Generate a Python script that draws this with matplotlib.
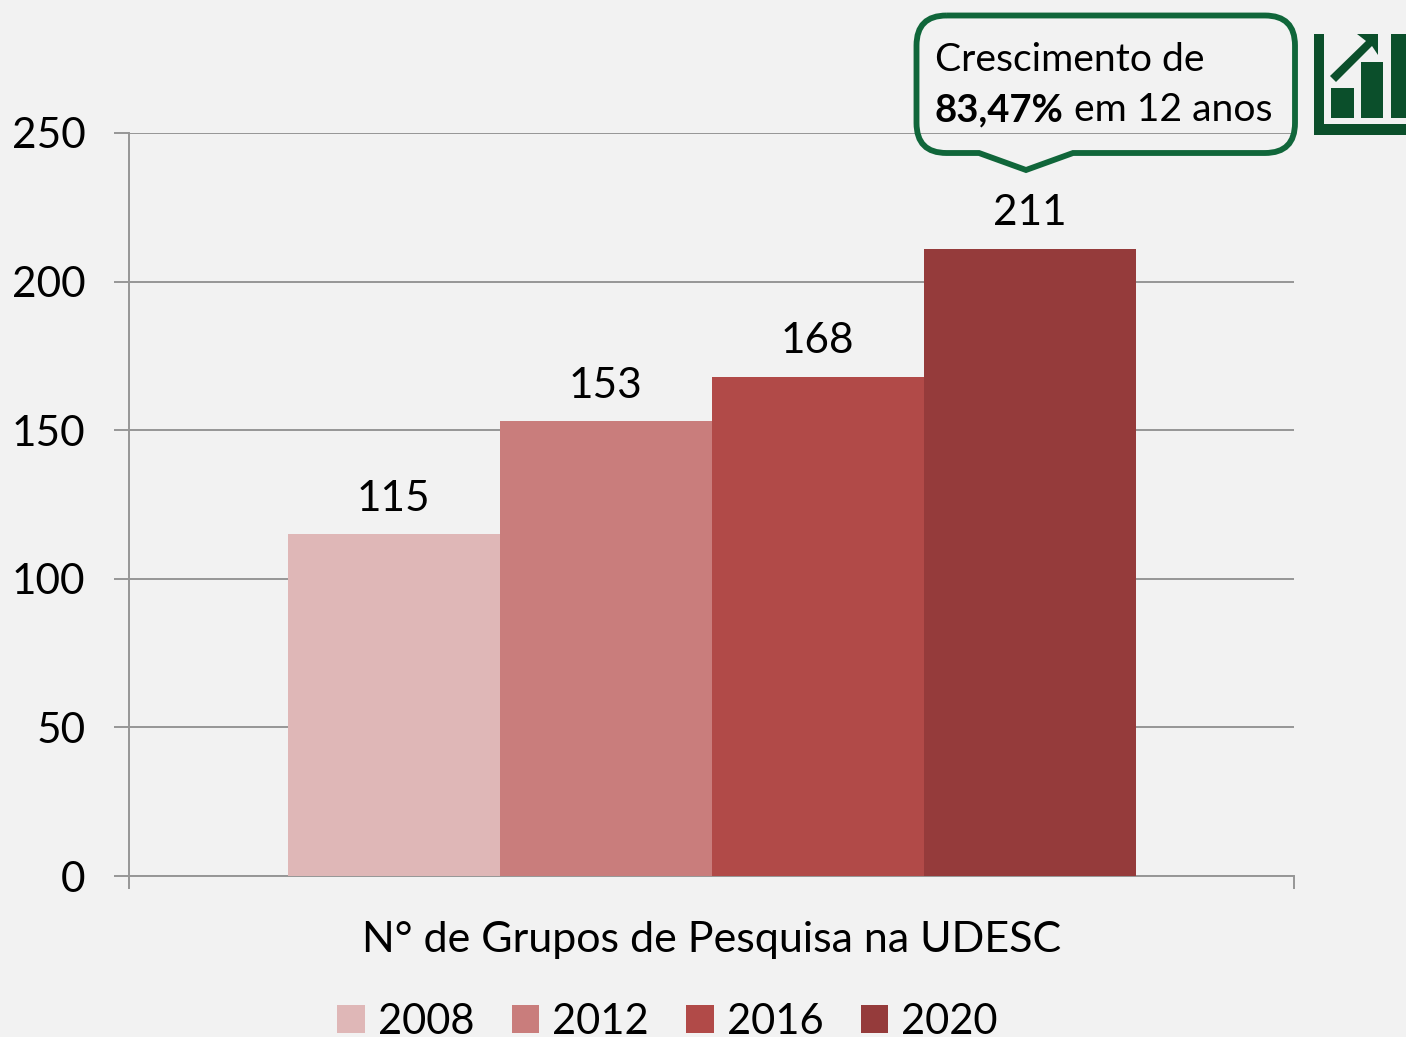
import matplotlib
matplotlib.use('Agg')
import matplotlib.pyplot as plt
from matplotlib.patches import PathPatch, Polygon, Rectangle
from matplotlib.path import Path
from matplotlib.transforms import Affine2D

years = ['2008', '2012', '2016', '2020']
grupos = [115, 153, 168, 211]
cores = ['#DFB7B7', '#C97D7C', '#B14A48', '#953B3B']
y_ticks = [0, 50, 100, 150, 200, 250]

W, H = 1406, 1037
BG = '#F2F2F2'
CINZA = '#969696'
VERDE = '#10663A'
VERDE_ESC = '#0B4F2B'

plt.rcParams['font.family'] = ['Lato', 'DejaVu Sans']

fig = plt.figure(figsize=(W / 100, H / 100), dpi=100, facecolor=BG)
ax = fig.add_axes([129 / W, 1 - 876 / H, (1294 - 129) / W, (876 - 133) / H], facecolor=BG)

for i in range(len(years)):
    b = ax.bar(i, grupos[i], width=1, color=cores[i], label=years[i], zorder=3)
    ax.bar_label(b, padding=12, fontsize=30.5, color='black')

ax.set_xlim(1.5 - 1165 / 212 / 2, 1.5 + 1165 / 212 / 2)
ax.set_ylim(0, 250)
ax.set_yticks(y_ticks)
ax.set_xticks([ax.get_xlim()[0], ax.get_xlim()[1]])
ax.set_xticklabels(['', ''])
ax.tick_params(axis='y', length=10.5, width=1.4, color=CINZA, labelsize=30.5, pad=21)
ax.tick_params(axis='x', length=9, width=1.4, color=CINZA)
ax.yaxis.grid(True, color=CINZA, linewidth=1.4, zorder=0)
ax.set_axisbelow(True)
for s in ['top', 'right']:
    ax.spines[s].set_visible(False)
for s in ['left', 'bottom']:
    ax.spines[s].set_color(CINZA)
    ax.spines[s].set_linewidth(1.4)

fig.text(712 / W, 1 - 940 / H, 'N° de Grupos de Pesquisa na UDESC', fontsize=31,
         ha='center', va='center', color='black')

fig.legend(loc='center', bbox_to_anchor=(667.5 / W, 1 - 1022 / H), ncol=4, frameon=False,
           fontsize=30, handlelength=0.66, handleheight=0.66, handletextpad=0.31,
           columnspacing=0.9, borderpad=0, borderaxespad=0)

# callout and icon are placed in image pixels
px = Affine2D().scale(1, -1).translate(0, H)

l, r, t, b, c = 916.5, 1295, 15.5, 153, 30
verts = [(l + c, t), (r - c, t), (r, t), (r, t + c), (r, b - c), (r, b), (r - c, b),
         (1073, b), (1026, 170), (979, b), (l + c, b), (l, b), (l, b - c), (l, t + c),
         (l, t), (l + c, t)]
codes = [Path.MOVETO, Path.LINETO, Path.CURVE3, Path.CURVE3, Path.LINETO, Path.CURVE3, Path.CURVE3,
         Path.LINETO, Path.LINETO, Path.LINETO, Path.LINETO, Path.CURVE3, Path.CURVE3, Path.LINETO,
         Path.CURVE3, Path.CURVE3]
fig.add_artist(PathPatch(Path(verts, codes), fc='none', ec=VERDE, lw=4.2, transform=px, joinstyle='miter'))

fig.text(935 / W, 1 - 60 / H, 'Crescimento de', fontsize=28.2, va='center', ha='left')
fig.text(935 / W, 1 - 110 / H, '83,47%', fontsize=27.5, fontweight='bold', va='center', ha='left')
fig.text(1074 / W, 1 - 110 / H, 'em 12 anos', fontsize=28.2, va='center', ha='left')

for x0, y0, x1, y1 in [(1314, 34, 1324, 135), (1314, 124, 1406, 135), (1331, 88, 1354, 118),
                       (1361, 62, 1383, 118), (1391, 34, 1406, 118)]:
    fig.add_artist(Rectangle((x0, y0), x1 - x0, y1 - y0, fc=VERDE_ESC, ec='none', transform=px))
fig.add_artist(Polygon([(1330, 76), (1336, 82), (1372, 46), (1378, 55), (1378, 34), (1357, 34), (1366, 41)],
                       fc=VERDE_ESC, ec='none', transform=px))

fig.savefig('out.png', dpi=100, facecolor=BG)
